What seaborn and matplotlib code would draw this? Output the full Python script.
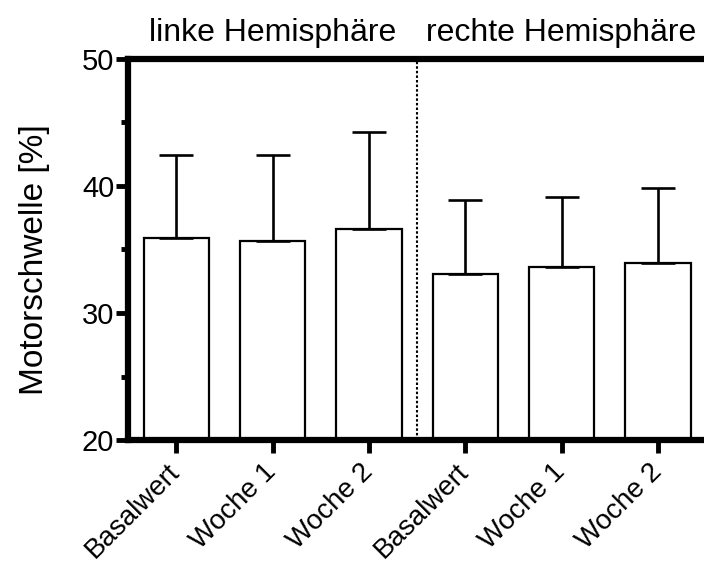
import matplotlib
matplotlib.use("Agg")
import matplotlib.pyplot as plt
import matplotlib.transforms as mtransforms
from matplotlib.ticker import MultipleLocator
import seaborn as sns
import pandas as pd
import numpy as np

# ---- data ----
bar_keys = ["L_Basalwert", "L_Woche1", "L_Woche2", "R_Basalwert", "R_Woche1", "R_Woche2"]
tick_labels = ["Basalwert", "Woche 1", "Woche 2", "Basalwert", "Woche 1", "Woche 2"]
means = [35.9, 35.7, 36.6, 33.1, 33.6, 33.9]
sd = [6.5, 6.7, 7.6, 5.8, 5.5, 5.9]
group_titles = ["linke Hemisphäre", "rechte Hemisphäre"]
y_label = "Motorschwelle [%]"

df = pd.DataFrame({"key": bar_keys, "mean": means, "sd": sd})

sns.set_theme(style="ticks")
plt.rcParams["font.family"] = ["Liberation Sans", "DejaVu Sans"]
plt.rcParams["text.color"] = "black"
plt.rcParams["axes.labelcolor"] = "black"
plt.rcParams["xtick.color"] = "black"
plt.rcParams["ytick.color"] = "black"

fig = plt.figure(figsize=(7.04, 5.65), dpi=100)
ax = fig.add_axes([0.182, 0.221, 0.821, 0.675])

sns.barplot(data=df, x="key", y="mean", order=bar_keys, color="white",
            edgecolor="black", linewidth=1.6, width=0.68, errorbar=None,
            ax=ax, zorder=2)

xpos = np.arange(len(bar_keys))
ax.errorbar(xpos, df["mean"], yerr=[np.zeros(len(sd)), df["sd"]], fmt="none",
            ecolor="black", elinewidth=1.9, capsize=12.5, capthick=1.9, zorder=3)

ax.set_xlim(-0.5, 5.5)
ax.set_ylim(20, 50)
ax.yaxis.set_major_locator(MultipleLocator(10))
ax.yaxis.set_minor_locator(MultipleLocator(5))

ax.axvline(2.5, color="black", linestyle=(0, (1.2, 1.0)), linewidth=1.5, zorder=1)

for s in ["left", "top", "bottom"]:
    ax.spines[s].set_linewidth(4.5)
    ax.spines[s].set_color("black")
ax.spines["right"].set_visible(False)

ax.tick_params(axis="y", which="major", length=9, width=3.5, labelsize=21, pad=1,
               color="black", labelcolor="black")
ax.tick_params(axis="y", which="minor", length=5, width=3.5, color="black")
ax.tick_params(axis="x", which="major", length=9, width=3.5, labelsize=20, pad=3,
               color="black", labelcolor="black")

ax.set_xticks(xpos)
ax.set_xticklabels(tick_labels, rotation=45, ha="right", va="center", rotation_mode="anchor")
for lbl in ax.get_xticklabels():
    lbl.set_y(-0.03)

ax.set_xlabel("")
ax.set_ylabel(y_label, fontsize=24, color="black")
ax.yaxis.set_label_coords(-0.135, 0.474)

trans = mtransforms.blended_transform_factory(ax.transData, ax.transAxes)
ax.text(1, 1.068, group_titles[0], transform=trans, ha="center", va="center",
        fontsize=23, color="black")
ax.text(4, 1.068, group_titles[1], transform=trans, ha="center", va="center",
        fontsize=23, color="black")

fig.savefig("out.png", dpi=100)
